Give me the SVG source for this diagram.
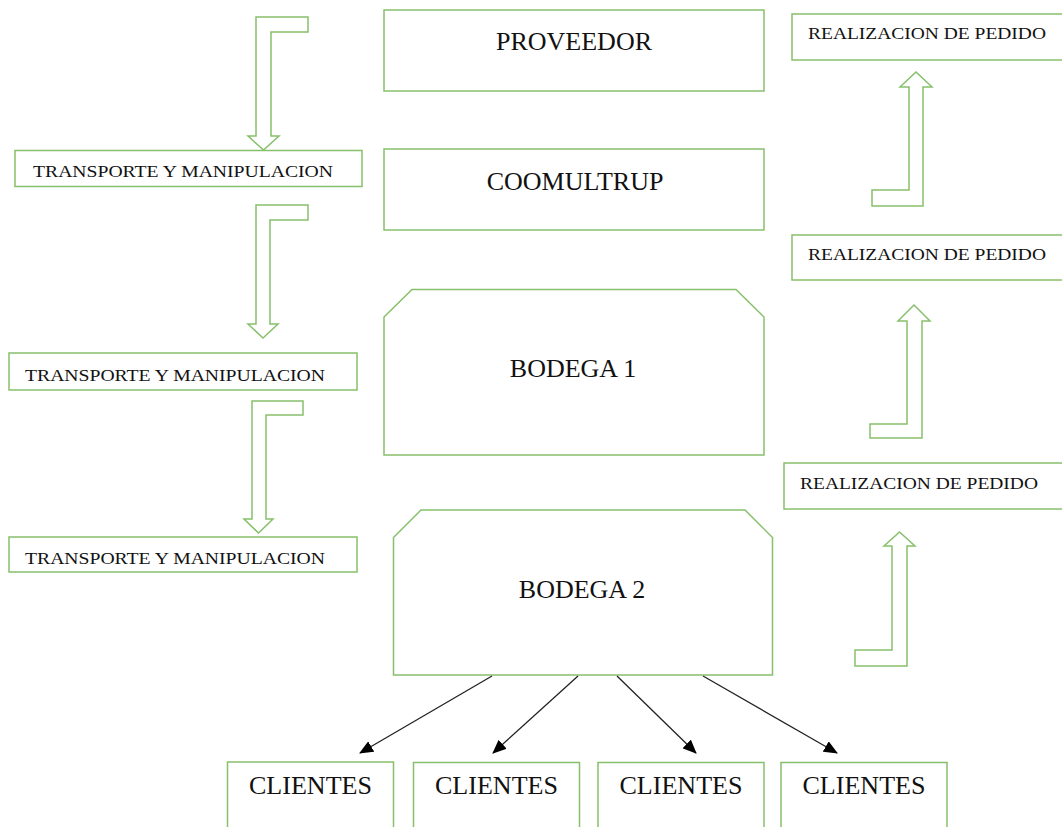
<svg xmlns="http://www.w3.org/2000/svg" width="1062" height="827" viewBox="0 0 1062 827">
<defs>
<style>
.box{fill:#ffffff;stroke:#86c06b;stroke-width:1.5}
.barrow{fill:#ffffff;stroke:#86c06b;stroke-width:1.5;stroke-linejoin:miter}
.big{font-family:"Liberation Serif","Times New Roman",serif;font-size:26px;fill:#111;text-anchor:middle}
.cli{font-family:"Liberation Serif","Times New Roman",serif;font-size:25px;fill:#111;text-anchor:middle}
.small{font-family:"Liberation Serif","Times New Roman",serif;font-size:17px;fill:#111}
.conn{stroke:#222;stroke-width:1.3;fill:none}
</style>
<marker id="ah" markerWidth="14" markerHeight="12" refX="13" refY="6" orient="auto" markerUnits="userSpaceOnUse">
<path d="M0,0 L14,6 L0,12 Z" fill="#000"/>
</marker>
</defs>
<rect width="1062" height="827" fill="#ffffff"/>

<g id="proveedor">
<rect class="box" x="384" y="10" width="380" height="81"/>
<text class="big" x="574" y="50">PROVEEDOR</text>
</g>
<g id="coomultrup">
<rect class="box" x="384" y="149" width="380" height="81"/>
<text class="big" x="575" y="190">COOMULTRUP</text>
</g>
<g id="bodega1">
<path class="box" d="M384,317 L412,289.5 H736 L764,317 V455 H384 Z"/>
<text class="big" x="573" y="377">BODEGA 1</text>
</g>
<g id="bodega2">
<path class="box" d="M393.5,537.5 L421,510 H745 L772.5,537.5 V675 H393.5 Z"/>
<text class="big" x="582" y="598">BODEGA 2</text>
</g>

<g id="transporte1">
<rect class="box" x="15" y="150.5" width="347" height="36"/>
<text class="small" x="33" y="177" textLength="300" lengthAdjust="spacingAndGlyphs">TRANSPORTE Y MANIPULACION</text>
</g>
<g id="transporte2">
<rect class="box" x="9" y="353" width="348" height="37"/>
<text class="small" x="25" y="381" textLength="300" lengthAdjust="spacingAndGlyphs">TRANSPORTE Y MANIPULACION</text>
</g>
<g id="transporte3">
<rect class="box" x="9" y="537" width="348" height="35"/>
<text class="small" x="25" y="564" textLength="300" lengthAdjust="spacingAndGlyphs">TRANSPORTE Y MANIPULACION</text>
</g>

<g id="pedido1">
<rect class="box" x="792" y="14" width="280" height="46"/>
<text class="small" x="808" y="39" textLength="238" lengthAdjust="spacingAndGlyphs">REALIZACION DE PEDIDO</text>
</g>
<g id="pedido2">
<rect class="box" x="792" y="235" width="280" height="45"/>
<text class="small" x="808" y="260" textLength="238" lengthAdjust="spacingAndGlyphs">REALIZACION DE PEDIDO</text>
</g>
<g id="pedido3">
<rect class="box" x="784" y="463" width="288" height="46"/>
<text class="small" x="800" y="489" textLength="238" lengthAdjust="spacingAndGlyphs">REALIZACION DE PEDIDO</text>
</g>

<g id="clientes1">
<rect class="box" x="227.5" y="762" width="166" height="80"/>
<text class="cli" x="310.5" y="794" textLength="123" lengthAdjust="spacingAndGlyphs">CLIENTES</text>
</g>
<g id="clientes2">
<rect class="box" x="413.5" y="762.5" width="166" height="80"/>
<text class="cli" x="496.5" y="794" textLength="123" lengthAdjust="spacingAndGlyphs">CLIENTES</text>
</g>
<g id="clientes3">
<rect class="box" x="598" y="762.5" width="166" height="80"/>
<text class="cli" x="681" y="794" textLength="123" lengthAdjust="spacingAndGlyphs">CLIENTES</text>
</g>
<g id="clientes4">
<rect class="box" x="781" y="762.5" width="166" height="80"/>
<text class="cli" x="864" y="794" textLength="123" lengthAdjust="spacingAndGlyphs">CLIENTES</text>
</g>

<g id="flow-arrows">
<path class="barrow" d="M256,17 H308 V32 H271 V136 H279 L263.5,150 L248,136 H256 Z"/>
<path class="barrow" d="M256,205 H308 V220 H270 V324 H278 L263,338 L248,324 H256 Z"/>
<path class="barrow" d="M252,401 H303 V415 H266 V519 H273 L258.5,533 L244,519 H252 Z"/>
<path class="barrow" d="M872,190 H909 V87 H900 L916,72 L932,87 H923 V206 H872 Z"/>
<path class="barrow" d="M870,424 H907 V321 H898 L914,305 L930,321 H922 V438 H870 Z"/>
<path class="barrow" d="M855,650 H892 V546 H884 L899.5,532 L915,546 H907 V666 H855 Z"/>
</g>

<g id="connectors">
<line class="conn" x1="492" y1="676" x2="360" y2="753" marker-end="url(#ah)"/>
<line class="conn" x1="578" y1="676" x2="493" y2="753" marker-end="url(#ah)"/>
<line class="conn" x1="617" y1="676" x2="696" y2="753" marker-end="url(#ah)"/>
<line class="conn" x1="703" y1="676" x2="837" y2="753" marker-end="url(#ah)"/>
</g>
</svg>
